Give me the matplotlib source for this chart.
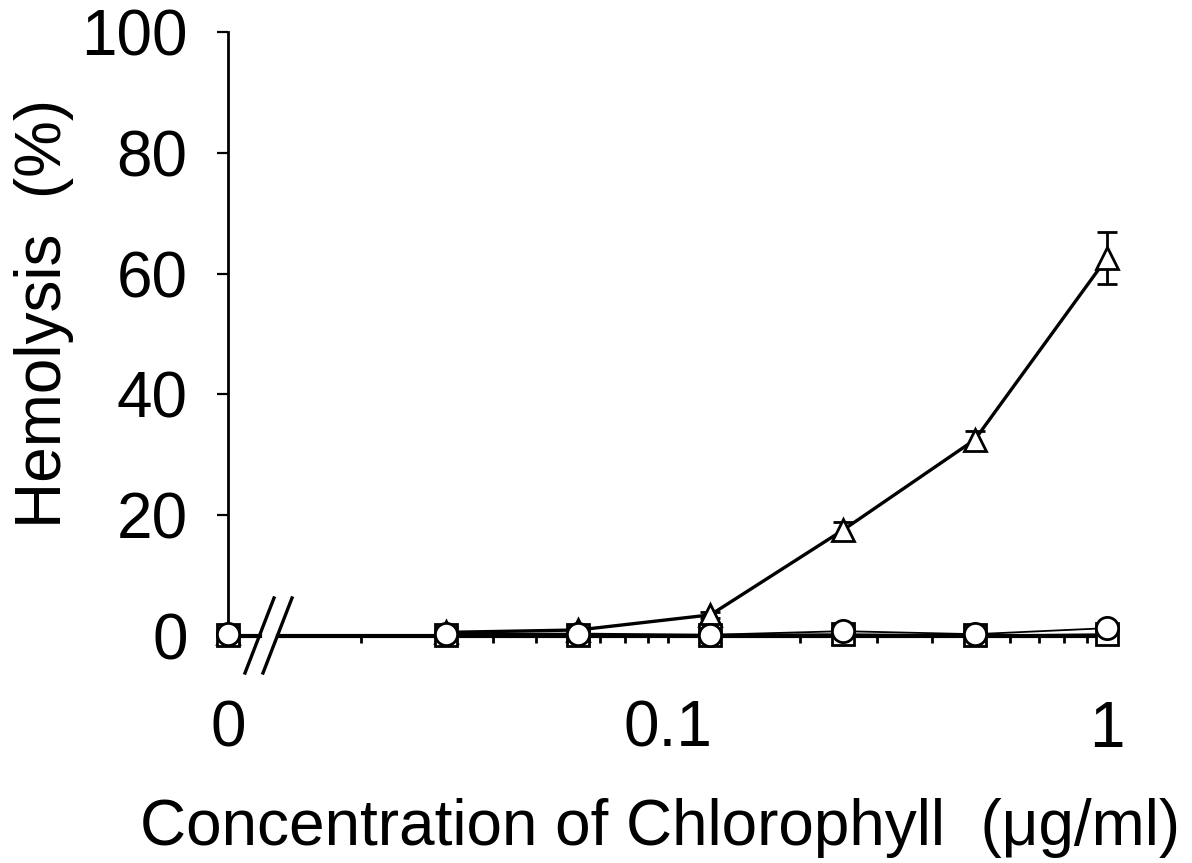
import numpy as np
import matplotlib.pyplot as plt

plt.rcParams['font.family'] = ['Liberation Sans', 'DejaVu Sans']

# concentrations (ug/ml), 0 is drawn on its own short axis
conc = [0.03125, 0.0625, 0.125, 0.25, 0.5, 1.0]
zero_vals = {"tri": 0.5, "sq": 0.2, "circ": 0.3}

tri = [0.6, 1.0, 3.5, 17.5, 32.5, 62.6]
tri_err = [0.0, 0.0, 0.5, 1.3, 1.5, 4.3]
sq = [0.2, 0.2, 0.2, 0.3, 0.1, 0.3]
circ = [0.4, 0.4, 0.2, 0.8, 0.3, 1.3]

yticks = [0, 20, 40, 60, 80, 100]

W, H = 1192, 863
fig = plt.figure(figsize=(W / 100, H / 100), dpi=100)

y0_px, y100_px = 636, 32
bot = (H - y0_px) / H
hgt = (y0_px - y100_px) / H

ax0 = fig.add_axes([228 / W, bot, (260 - 228) / W, hgt])
ax1 = fig.add_axes([278 / W, bot, (1107 - 278) / W, hgt], sharey=ax0)

fs = 46
mk = dict(markersize=16, markeredgewidth=2.0, markeredgecolor='black',
          markerfacecolor='white', clip_on=False)

# zero point
ax0.plot([0], [zero_vals["tri"]], marker='^', color='black', zorder=3, **mk)
ax0.plot([0], [zero_vals["sq"]], marker='s', color='black', zorder=4, **mk)
ax0.plot([0], [zero_vals["circ"]], marker='o', color='black', zorder=5, **mk)
ax0.set_xlim(0, 1)
ax0.set_ylim(0, 100)

# log part
ax1.set_xscale('log')
ax1.errorbar(conc, tri, yerr=tri_err, color='black', lw=2.4, marker='^',
             capsize=7, capthick=2, elinewidth=2, zorder=3, **mk)
ax1.plot(conc, sq, color='black', lw=1.3, marker='s', zorder=4, **mk)
ax1.plot(conc, circ, color='black', lw=1.3, marker='o', zorder=5, **mk)
ax1.set_xlim(0.01294, 1.0)

for a in (ax0, ax1):
    a.spines['top'].set_visible(False)
    a.spines['right'].set_visible(False)
    a.spines['bottom'].set_linewidth(3)
    a.patch.set_visible(False)

ax0.spines['left'].set_linewidth(2)
ax0.set_yticks(yticks)
ax0.tick_params(axis='y', direction='out', length=8, width=1.6, labelsize=fs, pad=21)
ax0.set_xticks([0])
ax0.set_xticklabels(['0'])
ax0.tick_params(axis='x', length=0, labelsize=fs, pad=46)

ax1.spines['left'].set_visible(False)
ax1.tick_params(axis='y', left=False, labelleft=False)
ax1.set_xticks([0.1, 1.0])
ax1.set_xticklabels(['0.1', '1'])
ax1.tick_params(axis='x', which='major', direction='out', length=5, width=2,
                labelsize=fs, pad=41)
ax1.tick_params(axis='x', which='minor', direction='out', length=5, width=2)

# break marks
for xs in ((245, 274), (263, 292)):
    fig.add_artist(plt.Line2D([xs[0] / W, xs[1] / W],
                              [(H - 673) / H, (H - 598) / H],
                              color='black', lw=2.4))

fig.text(44 / W, 1 - 313 / H, 'Hemolysis  (%)', rotation=90, ha='center',
         va='center', fontsize=fs)
fig.text(660 / W, 1 - 828 / H, 'Concentration of Chlorophyll  (\u03bcg/ml)',
         ha='center', va='center', fontsize=fs)

fig.savefig('out.png', dpi=100)
